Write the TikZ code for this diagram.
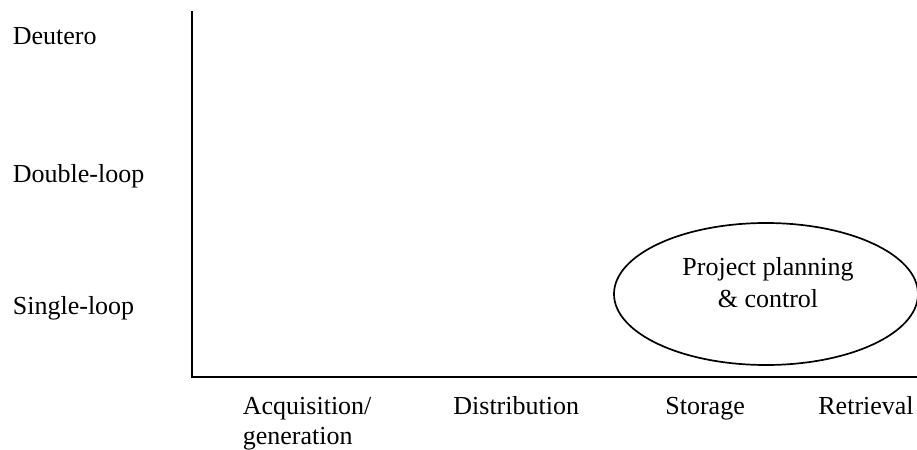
\documentclass[tikz,border=0pt]{standalone}
\usepackage{fontspec}
\setmainfont{Liberation Serif}
\usetikzlibrary{shapes.geometric}
\begin{document}
\begin{tikzpicture}[x=0.5pt,y=-0.5pt,
  lbl/.style={anchor=base west,inner sep=0pt,font=\fontsize{13}{15}\selectfont},
  axisline/.style={line width=1pt},
  oval/.style={draw,ellipse,line width=0.85pt,minimum width=152pt,minimum height=71pt,inner sep=0pt}]
\useasboundingbox (0,0) rectangle (917,450);
\coordinate (top) at (192,11);
\coordinate (origin) at (192,377);
\coordinate (right) at (917,377);
\draw[axisline] (top) -- (origin) -- (right);
\node[lbl] (deutero) at (12.5,44) {Deutero};
\node[lbl] (double) at (12.5,182.5) {Double-loop};
\node[lbl] (single) at (12.5,314) {Single-loop};
\node[lbl] (acq) at (242.5,414) {Acquisition/};
\node[lbl] (acq2) at (242.5,444) {generation};
\node[lbl] (dist) at (453,414) {Distribution};
\node[lbl] (stor) at (665,414) {Storage};
\node[lbl] (retr) at (818,414) {Retrieval};
\node[oval] (ppc) at (766,294) {};
\node[inner sep=0pt,anchor=base,font=\fontsize{13}{15}\selectfont] (ppc1) at (768,275) {Project planning};
\node[inner sep=0pt,anchor=base,font=\fontsize{13}{15}\selectfont] (ppc2) at (768,307) {\& control};
\end{tikzpicture}
\end{document}
